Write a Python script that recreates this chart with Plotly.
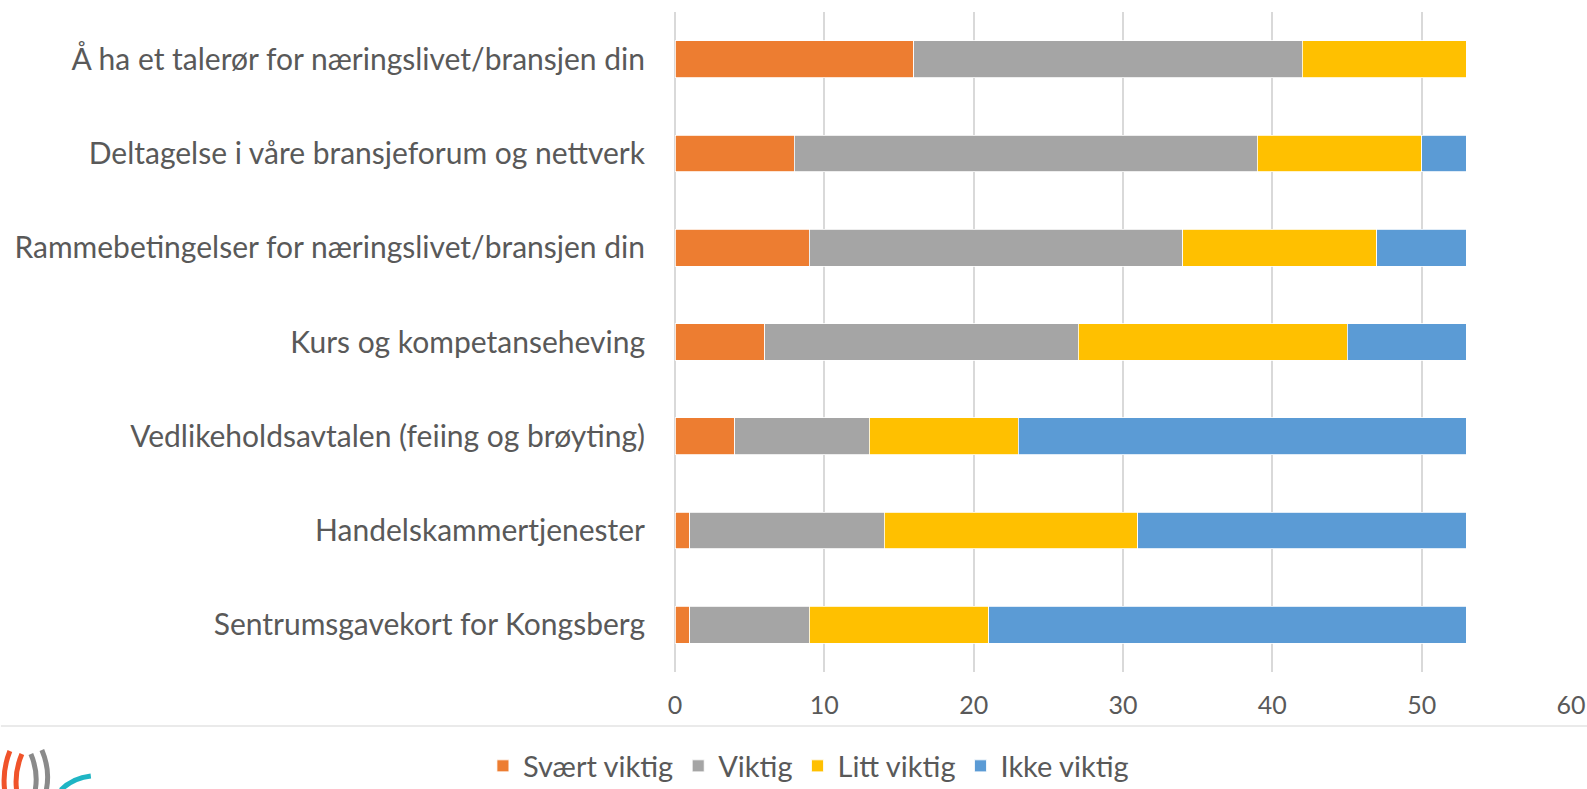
import plotly.graph_objects as go

categories = [
    "Å ha et talerør for næringslivet/bransjen din",
    "Deltagelse i våre bransjeforum og nettverk",
    "Rammebetingelser for næringslivet/bransjen din",
    "Kurs og kompetanseheving",
    "Vedlikeholdsavtalen (feiing og brøyting)",
    "Handelskammertjenester",
    "Sentrumsgavekort for Kongsberg",
]
svaert_viktig = [16, 8, 9, 6, 4, 1, 1]
viktig = [26, 31, 25, 21, 9, 13, 8]
litt_viktig = [11, 11, 13, 18, 10, 17, 12]
ikke_viktig = [0, 3, 6, 8, 30, 22, 32]
x_ticks = [0, 10, 20, 30, 40, 50, 60]

series = [
    ("Svært viktig", svaert_viktig, "#ED7D31"),
    ("Viktig", viktig, "#A5A5A5"),
    ("Litt viktig", litt_viktig, "#FFC000"),
    ("Ikke viktig", ikke_viktig, "#5B9BD5"),
]

W, H = 1587, 789
L, R, T, B = 674.5, 1571, 12, 672
FONT = "Lato, Open Sans, sans-serif"
TXT = "#595959"

def px(x):
    return (x - L) / (R - L)

def py(y):
    return (B - y) / (B - T)

fig = go.Figure()
for name, vals, col in series:
    fig.add_trace(go.Bar(
        y=categories, x=vals, name=name, orientation="h",
        marker=dict(color=col, line=dict(color="white", width=0.8)),
    ))

shapes = [
    dict(type="line", xref="paper", yref="paper", x0=px(0), x1=px(W), y0=py(726), y1=py(726),
         line=dict(color="#E3E3E3", width=1.5), layer="above"),
    # partial logo at bottom-left
    dict(type="path", xref="paper", yref="paper",
         path=f"M {px(9)},{py(751)} Q {px(1)},{py(771)} {px(4)},{py(792)}",
         line=dict(color="#F0532A", width=5)),
    dict(type="path", xref="paper", yref="paper",
         path=f"M {px(21)},{py(754)} Q {px(13)},{py(773)} {px(16)},{py(792)}",
         line=dict(color="#F0532A", width=5)),
    dict(type="path", xref="paper", yref="paper",
         path=f"M {px(30)},{py(754)} Q {px(38)},{py(773)} {px(34)},{py(792)}",
         line=dict(color="#8A8A8A", width=5)),
    dict(type="path", xref="paper", yref="paper",
         path=f"M {px(41)},{py(750)} Q {px(50)},{py(771)} {px(45)},{py(792)}",
         line=dict(color="#8A8A8A", width=5)),
    dict(type="path", xref="paper", yref="paper",
         path=f"M {px(60)},{py(790)} Q {px(72)},{py(778)} {px(90)},{py(776)}",
         line=dict(color="#1FB5C4", width=5)),
]

fig.update_layout(
    width=W, height=H,
    barmode="stack", bargap=0.61,
    plot_bgcolor="white", paper_bgcolor="white",
    margin=dict(l=L, r=W - R, t=T, b=H - B, autoexpand=False),
    font=dict(family=FONT, color=TXT, size=24),
    xaxis=dict(range=[0, 60], tickvals=x_ticks, showgrid=True, gridcolor="#D9D9D9", gridwidth=1.5,
               zeroline=True, zerolinecolor="#D9D9D9", zerolinewidth=1.5, showline=False,
               ticks="", tickfont=dict(size=25, color=TXT, family=FONT), ticklabelstandoff=16),
    yaxis=dict(autorange="reversed", showgrid=False, zeroline=False, showline=False, ticks="",
               tickfont=dict(size=30, color=TXT, family=FONT), ticklabelstandoff=29),
    legend=dict(orientation="h", x=px(808), xanchor="center", y=py(766), yanchor="middle",
                font=dict(size=29, color=TXT, family=FONT), itemwidth=30, traceorder="normal",
                bgcolor="rgba(0,0,0,0)"),
    shapes=shapes,
    showlegend=True,
)
fig.write_html("out.html", config={"displayModeBar": False},
               post_script="document.body.style.margin='0';document.body.style.padding='0';")
